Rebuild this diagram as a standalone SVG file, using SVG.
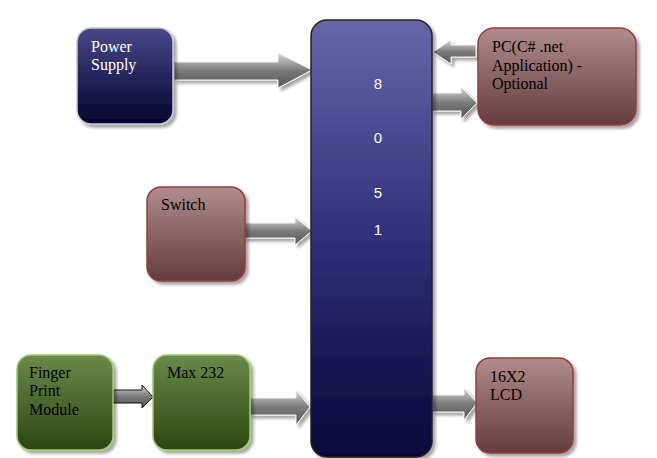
<svg xmlns="http://www.w3.org/2000/svg" width="657" height="458" viewBox="0 0 657 458">
<defs>
<linearGradient id="gBlue" x1="0" y1="0" x2="0" y2="1"><stop offset="0" stop-color="#48488a"/><stop offset="1" stop-color="#03032e"/></linearGradient>
<linearGradient id="gMain" x1="0" y1="0" x2="0" y2="1"><stop offset="0" stop-color="#6666aa"/><stop offset="0.5" stop-color="#30307a"/><stop offset="1" stop-color="#06063a"/></linearGradient>
<linearGradient id="gRed" x1="0" y1="0" x2="0" y2="1"><stop offset="0" stop-color="#b08c8c"/><stop offset="1" stop-color="#643c3c"/></linearGradient>
<linearGradient id="gGreen" x1="0" y1="0" x2="0" y2="1"><stop offset="0" stop-color="#6a8a4a"/><stop offset="1" stop-color="#2c4610"/></linearGradient>
<linearGradient id="gArrow" x1="0" y1="0" x2="0" y2="1"><stop offset="0" stop-color="#d8d8d8"/><stop offset="0.5" stop-color="#7a7a7a"/><stop offset="1" stop-color="#555"/></linearGradient>
<filter id="sh" x="-10%" y="-10%" width="130%" height="130%"><feDropShadow dx="3" dy="3" stdDeviation="1.5" flood-color="#000" flood-opacity="0.35"/></filter>
</defs>
<style>
.blue{fill:url(#gBlue);stroke:#c8c8d0;stroke-width:1.5;filter:url(#sh)}
.main{fill:url(#gMain);stroke:#222;stroke-width:1.5;filter:url(#sh)}
.red{fill:url(#gRed);stroke:#9a3a3a;stroke-width:1.5;filter:url(#sh)}
.green{fill:url(#gGreen);stroke:#9ccc6a;stroke-width:1.5;filter:url(#sh)}
.arr{fill:url(#gArrow);stroke:#f4f4f4;stroke-width:1;filter:url(#sh)}
.arrk{fill:url(#gArrow);stroke:#111;stroke-width:1}
text{font-family:"Liberation Serif","Times New Roman",serif;font-size:16px;fill:#000}
.w{fill:#fff}
.d{font-family:"Liberation Sans",Arial,sans-serif;font-size:15px;fill:#fff}
</style>
<g id="connectors">
<polygon class="arr" points="174,62 278,62 278,53 312,70 278,88 278,80 174,80"/>
<polygon class="arr" points="476,45 451,45 451,40 433,52 451,64 451,57 476,57"/>
<polygon class="arr" points="432,93 461,93 461,87 477,103 461,119 461,111 432,111"/>
<polygon class="arr" points="244,223 295,223 295,217 312,231 295,245 295,238 244,238"/>
<polygon class="arrk" points="113,390 142,390 142,385 153,397 142,408 142,403 113,403"/>
<polygon class="arr" points="250,398 296,398 296,390 310,407 296,425 296,415 250,415"/>
<polygon class="arr" points="432,395 464,395 464,388 477,403 464,420 464,412 432,412"/>
</g>
<g id="power-supply"><rect class="blue" x="77" y="28" width="96" height="96" rx="14"/><text class="w" x="91" y="52">Power</text><text class="w" x="91" y="70">Supply</text></g>
<g id="mcu-8051"><rect class="main" x="311" y="20" width="121" height="437" rx="16"/><text class="d" x="378" y="89" text-anchor="middle">8</text><text class="d" x="378" y="143" text-anchor="middle">0</text><text class="d" x="378" y="198" text-anchor="middle">5</text><text class="d" x="378" y="235" text-anchor="middle">1</text></g>
<g id="pc"><rect class="red" x="478" y="28" width="158" height="97" rx="16"/><text x="492" y="52">PC(C# .net</text><text x="492" y="71">Application) -</text><text x="492" y="89">Optional</text></g>
<g id="switch"><rect class="red" x="147" y="187" width="98" height="94" rx="14"/><text x="161" y="210">Switch</text></g>
<g id="finger-print"><rect class="green" x="17" y="355" width="96" height="95" rx="14"/><text x="29" y="378">Finger</text><text x="29" y="396">Print</text><text x="29" y="415">Module</text></g>
<g id="max232"><rect class="green" x="153" y="355" width="97" height="95" rx="14"/><text x="167" y="378">Max 232</text></g>
<g id="lcd"><rect class="red" x="476" y="358" width="97" height="95" rx="14"/><text x="490" y="382">16X2</text><text x="490" y="400">LCD</text></g>
</svg>
